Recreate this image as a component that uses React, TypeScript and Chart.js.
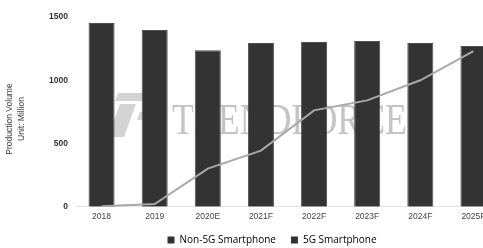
import React, { useEffect, useRef } from 'react';
import { Chart, registerables } from 'chart.js';

Chart.register(...registerables);

const categories = ['2018', '2019', '2020E', '2021F', '2022F', '2023F', '2024F', '2025F'];
const non5GValues = [1452, 1397, 1238, 1294, 1302, 1310, 1294, 1270];
const fiveGValues = [4, 22, 302, 444, 762, 841, 1000, 1230];
const yTickValues = [0, 500, 1000, 1500];
const yTitleLines = ['Production Volume', 'Unit: Million'];
const legendLabels = ['Non-5G Smartphone', '5G Smartphone'];
const watermarkText = 'TRENDFORCE';

const tickFont = '"Liberation Sans", Arial, sans-serif';

const yTitlePlugin = {
  id: 'yTitleCustom',
  afterDraw(chart: any) {
    const ctx = chart.ctx;
    ctx.save();
    ctx.translate(10, 119);
    ctx.rotate(-Math.PI / 2);
    ctx.textAlign = 'center';
    ctx.textBaseline = 'middle';
    ctx.fillStyle = '#3a3a3a';
    ctx.font = '8.5px "Liberation Sans", Arial, sans-serif';
    yTitleLines.forEach((t, i) => ctx.fillText(t, 0, i * 11.5));
    ctx.restore();
  },
};

const watermarkPlugin = {
  id: 'watermark',
  beforeDatasetsDraw(chart: any) {
    const ctx = chart.ctx;
    ctx.save();
    ctx.fillStyle = '#d4d4d4';
    ctx.beginPath();
    ctx.moveTo(118, 93);
    ctx.lineTo(160, 93);
    ctx.lineTo(157, 101);
    ctx.lineTo(115, 101);
    ctx.closePath();
    ctx.fill();
    ctx.beginPath();
    ctx.moveTo(120, 104);
    ctx.lineTo(136, 104);
    ctx.lineTo(124, 137);
    ctx.lineTo(108, 137);
    ctx.closePath();
    ctx.fill();
    ctx.beginPath();
    ctx.moveTo(140, 112);
    ctx.lineTo(160, 112);
    ctx.lineTo(157, 120);
    ctx.lineTo(137, 120);
    ctx.closePath();
    ctx.fill();
    ctx.fillStyle = '#c4c4c4';
    ctx.font = '44px "Liberation Serif", "Times New Roman", serif';
    ctx.textBaseline = 'alphabetic';
    const w = ctx.measureText(watermarkText).width;
    const target = 235;
    ctx.translate(172, 134);
    ctx.scale(target / w, 1);
    ctx.fillText(watermarkText, 0, 0);
    ctx.restore();
  },
};

const legendShiftPlugin = {
  id: 'legendShift',
  afterLayout(chart: any) {
    const lg = chart.legend;
    if (lg) {
      lg.left += 22;
      lg.right += 22;
      lg.top -= 7;
      lg.bottom -= 7;
    }
  },
};

export default function App() {
  const ref = useRef<HTMLCanvasElement | null>(null);

  useEffect(() => {
    if (!ref.current) return;
    const chart = new Chart(ref.current, {
      type: 'bar',
      data: {
        labels: categories,
        datasets: [
          {
            type: 'bar',
            label: legendLabels[0],
            data: non5GValues,
            backgroundColor: '#333333',
            borderColor: '#505050',
            borderWidth: 1,
            barPercentage: 0.49,
            categoryPercentage: 1,
            order: 2,
          },
          {
            type: 'line',
            label: legendLabels[1],
            data: fiveGValues,
            borderColor: '#a8a8a8',
            backgroundColor: '#a8a8a8',
            borderWidth: 2,
            pointRadius: 0,
            tension: 0,
            order: 1,
          } as any,
        ],
      },
      options: {
        responsive: false,
        animation: false,
        layout: { padding: { top: 17, left: 0, right: 0, bottom: -14 } },
        plugins: {
          tooltip: { enabled: false },
          legend: {
            position: 'bottom',
            labels: {
              boxWidth: 7,
              boxHeight: 7,
              padding: 15,
              color: '#333',
              font: { size: 10, family: '"Open Sans", sans-serif' },
              generateLabels: () =>
                legendLabels.map((t, i) => ({
                  text: t,
                  fillStyle: '#333',
                  strokeStyle: '#333',
                  lineWidth: 0,
                  hidden: false,
                  datasetIndex: i,
                })),
            },
          },
        },
        scales: {
          x: {
            grid: { display: false, drawTicks: false },
            border: { display: true, color: '#e4e4e4' },
            ticks: {
              color: '#444',
              font: { size: 8.5, family: tickFont },
              padding: 5,
              maxRotation: 0,
              autoSkip: false,
            },
          },
          y: {
            min: 0,
            max: 1500,
            grid: { display: false, drawTicks: false },
            border: { display: false },
            afterBuildTicks: (s: any) => {
              s.ticks = yTickValues.map((v) => ({ value: v }));
            },
            ticks: {
              color: '#333',
              font: { size: 8.5, family: tickFont, weight: 'bold' },
              padding: 7,
              callback: (v: any) => String(v),
            },
            afterFit: (s: any) => {
              s.width = 75;
            },
          },
        },
      },
      plugins: [watermarkPlugin, yTitlePlugin, legendShiftPlugin],
    });
    return () => chart.destroy();
  }, []);

  return (
    <div style={{ position: 'fixed', left: 0, top: 0, width: 500, height: 248, background: '#fff' }}>
      <canvas ref={ref} width={500} height={248} style={{ display: 'block' }} />
    </div>
  );
}
